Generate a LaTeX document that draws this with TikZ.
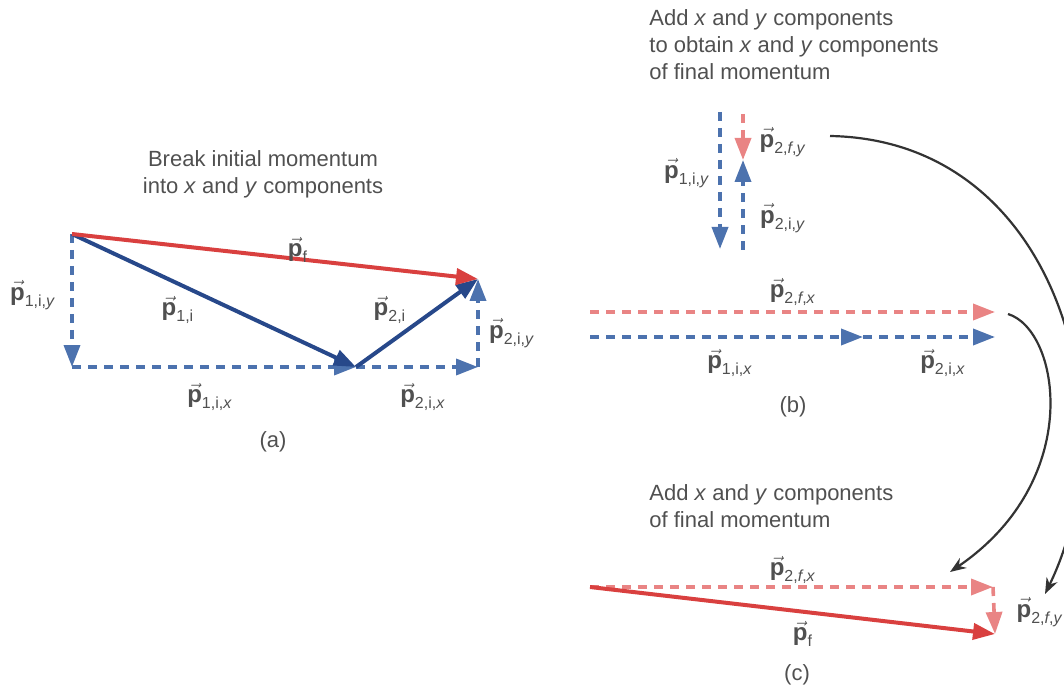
\documentclass[tikz,border=0pt]{standalone}
\usepackage{fontspec}
\setmainfont{Liberation Sans}
\usepackage{xcolor}
\usetikzlibrary{arrows.meta}
\definecolor{pred}{HTML}{D9403F}
\definecolor{predl}{HTML}{E98484}
\definecolor{pblue}{HTML}{27488A}
\definecolor{pbluel}{HTML}{4C72AE}
\definecolor{txt}{HTML}{505050}
\newcommand{\pv}[1]{$\vec{\mbox{\textbf{p}}}_{\mbox{\fontsize{8}{9}\selectfont #1}}$}
\tikzset{
  vecr/.style={line width=2pt, pred, -{Triangle[length=11pt,width=8pt]}},
  vecb/.style={line width=2pt, pblue, -{Triangle[length=11pt,width=8pt]}},
  cmpb/.style={line width=1.8pt, pbluel, dash pattern=on 4.5pt off 3.5pt, -{Triangle[length=11pt,width=8pt]}},
  cmpr/.style={line width=1.8pt, predl, dash pattern=on 4.5pt off 3.5pt, -{Triangle[length=11pt,width=8pt]}},
  link/.style={line width=1.1pt, black!80, -{Stealth[length=8pt,width=6pt]}},
  lbl/.style={font=\fontsize{12}{14}\selectfont, text=txt, inner sep=1pt},
  captxt/.style={font=\fontsize{11}{13.5}\selectfont, text=txt, inner sep=0pt}}
\begin{document}
\begin{tikzpicture}[x=0.5pt, y=-0.5pt]
\useasboundingbox (0,0) rectangle (1064,689);
% (a) initial momentum split into components
\node[captxt, align=center] (capa) at (263,174) {Break initial momentum\\into \textit{x} and \textit{y} components};
\coordinate (o) at (72,234);
\coordinate (c) at (72,367);
\coordinate (m) at (356,367);
\coordinate (e) at (478,367);
\coordinate (t) at (478,279);
\draw[cmpb] (o) -- (c);
\draw[cmpb] (c) -- (m);
\draw[cmpb] (m) -- (e);
\draw[cmpb] (e) -- (t);
\draw[vecb] (o) -- (m);
\draw[vecb] (m) -- (t);
\draw[vecr] (o) -- (t);
\node[lbl] (apf) at (298,250) {\pv{f}};
\node[lbl] (ap1y) at (33,295) {\pv{1,i,\textit{y}}};
\node[lbl] (ap1) at (178,310) {\pv{1,i}};
\node[lbl] (ap2) at (390,310) {\pv{2,i}};
\node[lbl] (ap2y) at (512,333) {\pv{2,i,\textit{y}}};
\node[lbl] (ap1x) at (210,397) {\pv{1,i,\textit{x}}};
\node[lbl] (ap2x) at (423,397) {\pv{2,i,\textit{x}}};
\node[captxt] (taga) at (273,442) {(a)};
% (b) adding the components
\node[captxt, align=left, anchor=west] (capb) at (649,45) {Add \textit{x} and \textit{y} components\\to obtain \textit{x} and \textit{y} components\\of final momentum};
\coordinate (b1t) at (720,112);
\coordinate (b1b) at (720,249);
\coordinate (b2t) at (743,114);
\coordinate (b2m) at (743,160);
\coordinate (b2b) at (743,250);
\draw[cmpb] (b1t) -- (b1b);
\draw[cmpr] (b2t) -- (b2m);
\draw[cmpb] (b2b) -- (b2m);
\coordinate (rx0) at (590,312);
\coordinate (rx1) at (995,312);
\coordinate (bx0) at (590,337);
\coordinate (bx1) at (863,337);
\coordinate (bx2) at (995,337);
\draw[cmpr] (rx0) -- (rx1);
\draw[cmpb] (bx0) -- (bx1);
\draw[cmpb] (bx1) -- (bx2);
\node[lbl] (bp1y) at (687,173) {\pv{1,i,\textit{y}}};
\node[lbl] (bpfy) at (783,142) {\pv{2,\textit{f},\textit{y}}};
\node[lbl] (bp2y) at (783,218) {\pv{2,i,\textit{y}}};
\node[lbl] (bpfx) at (793,292) {\pv{2,\textit{f},\textit{x}}};
\node[lbl] (bp1x) at (730,363) {\pv{1,i,\textit{x}}};
\node[lbl] (bp2x) at (943,363) {\pv{2,i,\textit{x}}};
\node[captxt] (tagb) at (793,407) {(b)};
% (c) final momentum
\node[captxt, align=left, anchor=west] (capc) at (649,506) {Add \textit{x} and \textit{y} components\\of final momentum};
\coordinate (c0) at (590,587);
\coordinate (cx) at (993,587);
\coordinate (cy) at (995,634);
\draw[cmpr] (c0) -- (cx);
\draw[cmpr] (cx) -- (cy);
\draw[vecr] (c0) -- (cy);
\node[lbl] (cpfx) at (793,570) {\pv{2,\textit{f},\textit{x}}};
\node[lbl] (cpf) at (803,634) {\pv{f}};
\node[lbl] (cpfy) at (1040,612) {\pv{2,\textit{f},\textit{y}}};
\node[captxt] (tagc) at (797,675) {(c)};
% carry components from (b) to (c)
\coordinate (k1s) at (830,136);
\coordinate (k1e) at (1045,594);
\coordinate (k2s) at (1008,314);
\coordinate (k2e) at (950,572);
\draw[link] (k1s) .. controls (1060,140) and (1130,420) .. (k1e);
\draw[link] (k2s) .. controls (1060,330) and (1085,480) .. (k2e);
\end{tikzpicture}
\end{document}
